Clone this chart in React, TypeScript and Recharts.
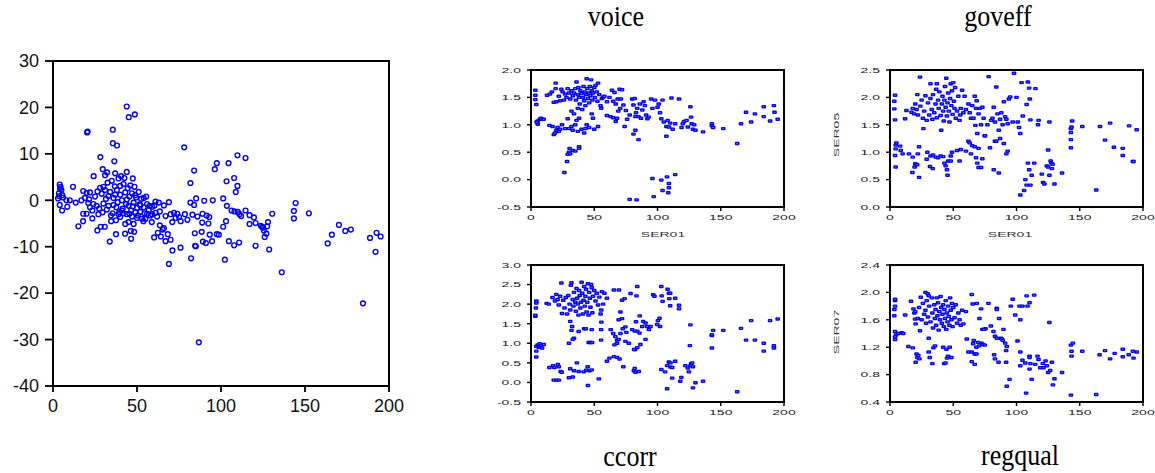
import React from 'react';
import { ScatterChart, Scatter, XAxis, YAxis } from 'recharts';

// big panel: open circles, x 0..200, y -40..30
const bigPoints: [number, number][] = [
  [3, 0.4], [3.5, 1.5], [4, 3.4], [4.5, 2.9], [5, 2.2], [5.5, 1.1], [4, -1], [5.4, -2.2], [3.6, 0.9], [4.2, 2.5],
  [6, 0.6], [8, 0], [8.5, -1.4], [10, 0], [11.9, 2.9], [13.5, -0.5], [15.1, -5.6], [16.9, 0], [17.9, -4.5], [18, -2.9],
  [20, -2.9], [18, 2], [20, 1.6], [22, 1.7], [20.3, 14.6], [20.6, 14.8], [19, 0.5], [21, -0.6], [22, -1.5], [23.4, -2.2],
  [23.4, -3.9], [24.2, 5.2], [25, 0.8], [26, -1.2], [26.4, -6.5], [27, -3], [28, 2.7], [28.2, 9.3], [28.4, -5.7], [29, 1.4],
  [29.6, 6.7], [30, 2.9], [30, -0.7], [30.8, -5.7], [31, 5.4], [31.5, 0.3], [32, -2], [32.2, 6], [32.5, 3.8], [33, -1.2],
  [33.8, -8.9], [34, 1.8], [34.6, -4.5], [35, 4.2], [35.6, 15.2], [35.6, 12.3], [35.5, -2.8], [36, 0.5], [36.5, 8.4], [36.8, 3],
  [37, 5.8], [37.5, -7.3], [37.5, -4.3], [37.7, -1.5], [38.1, 11.8], [38, 2.2], [38.5, -0.4], [39, 4.7], [39.5, -2.5], [40, 1.2],
  [40, -3.6], [40.5, 5.2], [41, 0], [41.5, -1.8], [42, 3.5], [42, -2.8], [42.5, 4.8], [42.9, -7.2], [43, -5.1], [43, 1.7],
  [43.5, -0.8], [43.9, 20.2], [43.9, 6.1], [44, -3], [44.5, 2.6], [45, -4.7], [45, -1.2], [45.1, 17.9], [45.5, 0.8], [46, 3.2],
  [46.3, -6.6], [46.5, -8.3], [46.5, -2.2], [47, 1.5], [47, -3.5], [47.5, 4.7], [48, -5.1], [48, -0.5], [48.3, -6.8], [48.7, 18.5],
  [48.5, 2.9], [49, -2.6], [49.5, 0.6], [50, -1.6], [50.5, -3.3], [51, 1.8], [51.5, -0.9], [52, -2.5], [52.5, 0.3], [53, -4],
  [53.8, -4.5], [54, -1.5], [54.5, -2.8], [55, -4], [55.5, 0.8], [56, -0.8], [57, -2.1], [58, -3.3], [58.8, -4.7], [59, -1.4],
  [60.2, -8], [60.4, -1.1], [61, -2.7], [62, -3.5], [62.4, -7], [63, -0.5], [63.6, -2.4], [63.6, -5.4], [64.2, -7.8], [65.3, -6.3],
  [66, -1.1], [66, -6], [67, -8.8], [67, -3.4], [68.3, -7.3], [69, -0.4], [69, -13.7], [70, -8.5], [70, -3], [71.1, -10.8],
  [71, -4.7], [72, -2.7], [73, -3.8], [74, -2.9], [75, -3.6], [75.9, -10.2], [76, -4.5], [78.1, 11.4], [78.5, -3], [80, -4.2],
  [81.8, 3.7], [81.8, -0.5], [82.2, -12.5], [83, -3.1], [84, 6.4], [84, -1], [84.4, -7.1], [84.6, -9.8], [85, -9.9], [85.2, 0.4],
  [86, -3.5], [86.8, -30.6], [88.5, -6.8], [88.8, -4.8], [89, -2.9], [89.2, -8.9], [90, -0.1], [91, -9.2], [91.5, -3.3], [92.5, -5],
  [93, -3.6], [93.3, -7.4], [94.7, -8.8], [95.1, 0], [96.3, 6.7], [97.5, 8], [97.5, -7.3], [98.7, -7.4], [101.3, 0.4], [101.3, -5.7],
  [102.3, -12.8], [103, -4.5], [103.3, 4.1], [103.5, -1.2], [104.5, 8], [104.7, -8.8], [106.3, -2.2], [107.8, 4.8], [107.8, -9.7], [108, -2.4],
  [108.8, 1.8], [109.8, 9.7], [109.8, 3.1], [110, -2.5], [110.8, -9.1], [111, -3], [112, -3.4], [114.6, 9.1], [114.6, -2.2], [117, -3.2],
  [117, -5.1], [119.6, -3.7], [120.6, -4.9], [120.6, -9.8], [123.7, -5.5], [124.5, -5.7], [125, -5.9], [125.5, -6.5], [126, -7.9], [127, -7.2],
  [127.5, -5.6], [128, -4.7], [128.7, -10.6], [130.5, -2.9], [136.2, -15.5], [143.4, -2.3], [143.4, -3.9], [144.4, -0.6], [152.3, -2.8], [163.5, -9.3],
  [166, -7.4], [170.2, -5.3], [174, -6.6], [177.3, -6.3], [184.5, -22.2], [188.7, -8.1], [192, -11.1], [192.6, -7], [195, -7.8],
  [21.5, 0.2], [24, -0.8], [26.5, 1.9], [27.5, -1.8], [29.5, -2.6], [31, 2.2], [33, 0.9], [34.5, -3.3], [36, -1], [37, 1.2],
  [39, -3], [40, 3.1], [41, -2.2], [44, 0.2], [45.5, -2.9], [47.5, -1.3], [49, 1.1], [50, -3.8], [52, -1.1], [54, 0.5],
  [56, -2.9], [57.5, -1.2], [59, -3], [61, -0.3],
];
const bigXTicks = [0, 50, 100, 150, 200];
const bigYTicks = [-40, -30, -20, -10, 0, 10, 20, 30];

const voicePoints: [number, number][] = [
  [3.4, 1.63], [3.4, 1.54], [3.4, 1.46], [4.2, 1.37], [5.3, 1.07], [5.3, 1.01], [4.5, 1.05], [7, 1.1], [8, 1.12], [10, 1.1],
  [12.7, 1.54], [15, 1.56], [16.5, 1.6], [19.5, 1.66], [19.5, 1.76], [18, 1.41], [20, 1.42], [22, 1.52], [23, 1.44], [24, 1.65],
  [25, 1.6], [26, 1.45], [27, 1.56], [28, 1.5], [29, 1.66], [30, 1.58], [31, 1.47], [32, 1.62], [33, 1.53], [34, 1.58],
  [35, 1.66], [35.5, 1.45], [36, 1.78], [37, 1.55], [37.5, 1.68], [38, 1.5], [38.5, 1.38], [39, 1.62], [40, 1.57], [40.5, 1.28],
  [41, 1.5], [41.5, 1.7], [42, 1.44], [42.5, 1.6], [43, 1.35], [43.5, 1.55], [44, 1.84], [44.5, 1.66], [45, 1.48], [45.5, 1.58],
  [46, 1.4], [46.5, 1.7], [47, 1.53], [47.5, 1.82], [48, 1.62], [48.5, 1.45], [49, 1.58], [50, 1.68], [50.5, 1.5], [51, 1.72],
  [52, 1.6], [52.5, 1.43], [53, 1.76], [54, 1.55], [55, 1.35], [55.5, 1.3], [56, 1.48], [57, 1.5], [58, 1.52], [60, 1.42],
  [60, 1.17], [62, 1.5], [63, 1.15], [64, 1.63], [65, 1.13], [65, 1.43], [66, 1.59], [67, 1.38], [67, 1.06], [68, 1.12],
  [68.5, 1.47], [69, 1.25], [70, 1.65], [70.5, 1.3], [71, 1.47], [72, 1.64], [73, 1.36], [74, 0.97], [75, 1.26], [76, 1.1],
  [78, 1.18], [80, 1.47], [81, 1.36], [82, 1.48], [82.5, 1.15], [83, 1.22], [84, 1.3], [85, 1.15], [86, 1.38], [87, 1.12],
  [88, 1.27], [89, 1.42], [90, 1.35], [91, 1.18], [92, 1.11], [93, 1.14], [95, 1.47], [96, 1.3], [98, 1.45], [100, 1.32],
  [101, 1.38], [102, 1.22], [103, 1.11], [104, 1.45], [105, 1.05], [107, 0.97], [108, 1.08], [109, 0.96], [110, 1.03], [111, 1.49],
  [112, 0.92], [114, 1.02], [117, 1.47], [119, 0.95], [120, 1.02], [121, 1.06], [123, 1.08], [124, 0.96], [126, 1.33], [126.5, 1.14],
  [127, 1.02], [128, 0.92], [129, 1.0], [130, 0.9], [136, 0.87], [143, 1.02], [143, 0.98], [144, 0.95], [152, 0.93], [163, 0.66],
  [166, 1.02], [170, 1.23], [174, 1.05], [177, 1.2], [184, 1.33], [184, 1.15], [189, 1.07], [192, 1.35], [192.5, 1.23], [195, 1.1],
  [14.5, 0.99], [17, 0.97], [18, 0.82], [19, 0.85], [20, 0.9], [21, 0.95], [22, 0.88], [23, 0.92], [24.5, 1.0], [27, 0.93],
  [29, 1.11], [30, 0.93], [32, 0.97], [33, 0.9], [35, 1.0], [36, 1.08], [37, 0.88], [38, 1.12], [40, 0.92], [42, 0.85],
  [43, 0.93], [44, 1.0], [46, 0.95], [48, 1.2], [49, 1.12], [50, 0.92], [53, 0.97], [32, 1.25], [34, 1.2], [37, 1.3],
  [26.4, 0.13], [28.5, 0.33], [29, 0.46], [30, 0.5], [30.5, 0.57], [31, 0.47], [33, 0.53], [35, 0.52], [38, 0.6], [38, 0.57],
  [78, -0.36], [83.5, -0.37], [97, -0.31], [96, 0.02], [103, -0.01], [107.5, 0.05], [109, -0.07], [109, -0.15], [108.5, -0.24], [104, -0.2],
  [114, 0.09], [81, 0.83], [82.5, 0.9], [85, 0.73], [107, 0.79],
];

const goveffPoints: [number, number][] = [
  [3.4, 1.79], [3.4, 1.93], [4, 2.04], [4, 1.59], [4.5, 1.13], [5, 1.17], [4.5, 1.06], [4, 0.94], [4.5, 0.73], [8, 1.11],
  [8.5, 1.03], [10, 0.97], [11.9, 1.61], [13, 1.76], [15, 0.97], [18, 0.91], [17.7, 0.63], [19.5, 0.73], [20, 0.79], [21.5, 0.77],
  [22, 0.97], [23, 0.54], [23, 1.1], [23.7, 2.37], [21.6, 2.05], [26.4, 1.43], [29.5, 1.0], [29, 0.87], [31.6, 0.74], [33.8, 0.7],
  [32, 0.93], [34, 0.95], [36, 0.91], [37, 2.25], [32, 2.25],
  [17, 1.73], [18, 1.8], [19, 1.7], [20, 1.88], [21, 1.78], [22, 1.68], [24, 1.84], [25, 1.95], [26, 1.62], [27, 1.75],
  [28, 2.03], [29, 1.58], [30, 1.9], [31, 1.68], [32, 1.98], [33, 1.78], [33.5, 1.6], [34, 2.05], [35, 1.72], [36, 1.88],
  [36.5, 2.15], [37, 1.63], [38, 1.95], [38.5, 1.8], [39, 2.1], [40, 1.67], [40.5, 1.4], [41, 1.88], [41.5, 2.02], [42, 1.75],
  [42.5, 1.57], [43, 1.95], [43.5, 2.2], [44, 1.82], [44.5, 2.35], [45, 1.66], [45.5, 1.9], [46, 2.08], [46.5, 1.75], [47, 1.55],
  [47.5, 1.98], [48, 2.25], [48.5, 1.85], [49, 2.12], [49.5, 1.69], [50, 2.27], [50.5, 1.93], [51, 1.8], [51.5, 2.18], [52, 1.62],
  [53, 1.75], [54, 2.02], [55, 1.58], [55.5, 1.68], [56, 1.8], [57, 2.13], [58, 1.72], [59, 2.02], [60, 1.78], [62, 1.88],
  [63, 1.72], [64, 1.62], [65, 1.85], [66, 1.62], [67, 2.02], [67.5, 1.49], [68, 1.8], [68.5, 1.94], [69, 1.34], [70, 1.7],
  [71, 1.8], [72, 1.5], [73, 1.82], [74, 1.62], [75, 1.3], [77, 1.5], [78, 2.38], [80, 1.58], [81, 1.62], [82, 1.82],
  [83, 1.55], [84, 2.19], [85, 1.7], [86, 1.4], [87, 1.6], [88, 1.72], [89, 1.5], [90, 1.92], [91, 1.65], [92, 1.6],
  [93, 1.52], [94, 1.97], [95, 2.01], [97, 1.55], [98, 2.44], [100, 2.0], [101, 1.55], [102, 1.45], [103, 1.34], [104, 2.27],
  [105, 1.66], [108, 1.87], [109, 2.28], [110, 2.17], [110.5, 1.97], [111, 1.59], [115, 2.16], [117, 1.5], [117.5, 1.58], [126, 1.55],
  [53, 1.03], [55, 0.84], [56, 1.05], [60, 1.02], [62, 1.2], [63, 1.17], [64, 0.97], [65, 1.12], [67, 1.1], [68, 0.9],
  [69, 0.8], [70, 1.07], [70, 0.72], [72, 0.72], [73, 0.88], [75, 1.3], [79, 1.08], [82, 0.68], [83, 1.2], [84, 1.2],
  [86, 0.62], [87, 1.25], [90, 1.16], [92, 0.97], [93, 1.02], [44, 0.75], [45, 0.68], [45.5, 0.58], [46, 0.84], [48, 0.84],
  [49, 1.0], [43, 0.8], [42, 0.92], [48, 0.93], [38, 0.9], [40, 0.93],
  [103, 0.22], [106, 0.3], [107, 0.5], [108, 0.4], [109, 0.8], [110, 0.68], [111, 0.4], [112, 0.58], [114, 0.8], [120, 0.6],
  [121, 0.45], [122, 0.42], [124, 0.75], [125, 0.73], [126, 0.58], [125, 1.04], [127, 0.84], [127.5, 0.8], [128, 0.7], [128.5, 0.78],
  [130, 0.42], [136, 0.62], [143, 1.08], [143, 1.23], [143, 1.36], [143, 1.43], [143.5, 1.46], [144, 1.57], [152, 1.47], [163, 0.31],
  [166, 1.47], [170, 1.22], [174, 1.53], [177, 1.09], [184, 1.07], [184, 0.94], [189, 1.48], [192, 0.83], [192.5, 0.83], [195, 1.41],
];

const ccorrPoints: [number, number][] = [
  [3.4, 1.69], [3.4, 1.72], [3.9, 1.9], [4.2, 2.03], [4.2, 2.08], [4.2, 0.8], [4.2, 0.65], [4.2, 0.92], [5.3, 0.96], [6, 0.9],
  [7.4, 0.9], [8.7, 0.88], [10, 0.97], [6.8, 0.99], [12.4, 2.02], [14, 2.0],
  [14.5, 0.38], [17.4, 0.43], [18.5, 0.38], [18, 0.06], [20.3, 0.06], [22, 0.06], [21.2, 0.46], [22, 0.4], [23.5, 0.28], [24.3, 0.26],
  [17, 2.17], [19, 2.08], [20, 2.25], [21, 2.12], [22, 1.98], [23, 2.2], [24, 2.54], [24.5, 1.76], [25.5, 2.1], [26.5, 1.9],
  [27.5, 2.17], [28.5, 1.75], [29.5, 2.22], [30.5, 2.0], [31, 1.85], [31.5, 2.48], [32, 2.55], [33, 2.12], [33.5, 1.95], [34, 2.3],
  [35, 2.05], [35.5, 1.82], [36, 2.4], [36.5, 2.15], [37, 2.0], [37.5, 1.72], [38, 2.35], [38.5, 2.22], [39, 1.9], [39.5, 2.05],
  [40, 2.56], [40.5, 2.28], [41, 1.75], [41.5, 2.1], [42, 2.45], [42.5, 1.95], [43, 2.2], [43.5, 2.38], [44, 1.8], [44.5, 2.05],
  [45, 2.52], [45.5, 1.72], [46, 2.3], [46.5, 2.15], [47, 1.92], [47.5, 2.5], [48, 2.42], [48.5, 1.78], [49, 2.2], [50, 2.35],
  [51, 2.08], [52, 2.28], [53, 1.98], [54, 2.18], [55, 1.75], [55.5, 1.85], [56, 2.32], [57, 2.0], [58, 2.28], [60, 2.15],
  [31, 1.56], [32.5, 1.43], [34, 1.13], [33, 1.1], [30, 1.0], [32, 1.33], [37.7, 1.3], [42, 1.37], [43.3, 1.37],
  [30, 0.12], [31, 0.35], [33, 0.14], [34, 0.3], [36.3, 0.5], [37.7, 0.28], [41.6, 0.27], [43.7, 0.31], [44.8, 0.4], [46.3, 0.3],
  [48, 0.32], [45, -0.08], [45.6, 1.02], [47, 1.02], [48.3, 1.02], [48, 1.35], [53.6, 0.09], [55.4, 1.35], [55.6, 1.54], [55.4, 1.08],
  [60, 0.54], [62, 0.62], [65.5, 0.66], [68, 0.64], [70, 0.6], [73, 0.4],
  [63, 1.35], [65, 1.25], [66.7, 1.17], [68, 1.08], [69.3, 1.1], [68, 1.0], [66, 0.96], [70.7, 1.25], [72.5, 1.37], [74.6, 1.42],
  [75.4, 1.28], [69.3, 1.6], [70.7, 1.8], [72, 1.63], [74.6, 1.05], [77.3, 1.0], [80, 1.35], [82, 1.31], [84, 1.31], [85.8, 1.26],
  [87.9, 1.43], [88.7, 1.56], [90.5, 1.52], [91.8, 1.43], [93.2, 1.35], [94.5, 1.43], [90.5, 1.1], [86.5, 0.97], [84, 0.89], [82.3, 0.84],
  [81.3, 0.3], [82, 0.36], [82.6, 0.26], [85.2, 0.28], [81.5, 0.84], [83, 1.55], [86, 1.7],
  [65.5, 2.36], [69.5, 2.36], [72, 2.1], [74, 2.14], [78.7, 2.27], [83.4, 2.21], [84, 2.45],
  [96.6, 2.24], [97.6, 2.2], [103, 2.45], [103.3, 2.21], [104, 2.07], [108, 2.38], [109, 2.28], [110, 2.28], [109.3, 2.14], [110, 1.96],
  [114, 2.15], [117, 1.97], [117, 1.88], [100.3, 1.58], [101.6, 1.64], [99.8, 1.48], [102, 1.43],
  [103, 0.33], [106, 0.27], [107.6, 0.43], [109, 0.52], [110.3, 0.5], [110.3, 0.39], [111.6, 0.38], [111.6, 0.11], [114, 0.54], [107.6, -0.16],
  [118, 0.03], [118.8, 0.13], [122, 0.43], [124, 0.37], [126, 0.43], [126.6, 0.48], [127.4, 0.5], [128, 0.4], [124.8, 0.27], [125.6, 0.94],
  [126, 1.47], [128, -0.14], [130, -0.01], [136, 0.03], [143, 1.2], [143, 1.22], [143, 0.88], [144, 1.33], [152, 1.33], [163, -0.24],
  [166, 1.38], [170, 1.08], [174, 1.58], [177, 1.08], [184, 1.0], [184, 0.8], [189, 1.58], [192, 0.94], [192, 0.88], [195, 1.62],
];

const regqualPoints: [number, number][] = [
  [3.4, 1.66], [3.4, 1.75], [4, 1.8], [4, 1.88], [4, 1.9], [4, 1.43], [4.8, 1.38], [4, 1.31], [4, 1.35], [6.6, 1.4],
  [9.2, 1.41], [10.5, 1.4], [12, 1.67], [14.5, 1.21], [16.6, 1.87], [18, 1.19], [18.5, 1.76], [19.3, 1.7], [19.8, 1.61], [20.3, 1.54],
  [20.3, 0.98], [21, 1.1], [21.6, 1.05], [22.4, 1.08], [23.2, 1.03], [23.7, 1.44], [24.3, 1.93], [28, 2.0], [29.8, 1.98], [30.6, 1.95],
  [30.6, 1.33], [30.6, 1.13], [31.4, 1.05], [33.5, 0.96], [34.3, 1.19], [35.6, 1.22],
  [20, 1.72], [22, 1.62], [23, 1.78], [25, 1.6], [26, 1.84], [27, 1.68], [28, 1.74], [28.5, 1.55], [29, 1.88], [30, 1.64],
  [31, 1.8], [32, 1.57], [33, 1.92], [33.5, 1.7], [34, 1.48], [35, 1.82], [35.5, 1.62], [36, 1.75], [36.5, 1.52], [37, 1.92],
  [37.5, 1.66], [38, 1.85], [38.5, 1.45], [39, 1.72], [39.5, 1.6], [40, 1.94], [40.5, 1.78], [41, 1.55], [41.5, 1.68], [42, 1.82],
  [42.5, 1.5], [43, 1.75], [43.5, 1.62], [44, 1.88], [44.5, 1.46], [45, 1.7], [45.5, 1.57], [46, 1.8], [46.5, 1.65], [47, 1.52],
  [47.5, 1.92], [48, 1.74], [48.5, 1.6], [49, 1.84], [49.5, 1.5], [50, 1.78], [51, 1.63], [52, 1.82], [53, 1.55], [54, 1.7],
  [55, 1.6], [56, 1.52], [57, 1.74], [58, 1.54], [60, 1.72],
  [42, 1.2], [42.8, 0.96], [43.8, 0.97], [45.1, 1.04], [45.9, 1.07], [44.6, 1.17], [47.2, 1.2], [48.5, 1.05],
  [60.7, 1.32], [62, 1.13], [64.6, 1.13], [64.6, 0.99], [67, 0.95], [67, 1.1], [68.3, 1.1], [68.3, 1.2], [65.7, 1.25], [66.2, 1.3],
  [69.7, 1.27], [70.5, 1.22], [72.3, 1.26], [73.6, 1.24], [74.9, 1.23], [73, 1.46], [75.5, 1.47],
  [64.6, 1.97], [65.4, 1.83], [68.6, 1.84], [70.7, 1.62], [72, 1.76], [74, 1.46], [77.8, 1.84], [79.7, 1.51], [81.8, 1.43], [83, 1.36],
  [84.4, 1.33], [82.3, 1.09], [83, 1.03], [84.4, 1.77], [84.4, 1.75], [85.8, 0.98], [86.3, 1.62], [87.6, 1.33], [88.4, 1.32], [89.2, 1.3],
  [89.7, 1.46], [91, 1.26], [92.3, 1.21], [91.8, 1.15], [91.8, 0.98], [92.3, 0.63], [94.5, 0.73], [95.5, 1.8], [97, 1.9], [99, 1.67],
  [100.8, 1.29], [102.3, 1.8], [103, 1.6], [103, 1.13], [104.7, 1.8], [103, 0.93], [104.7, 1.01], [106.9, 0.97], [107.6, 0.53], [108, 1.95],
  [108.7, 1.8], [110.3, 1.85], [110.3, 1.07], [110.3, 1.05], [110.3, 0.88], [111, 0.96], [112, 0.73], [114, 1.96], [114.8, 0.95], [116.6, 1.07],
  [117.4, 1.02], [118.7, 0.9], [120.8, 0.96], [121.3, 0.9], [123, 1.0], [124, 0.93], [125, 0.83], [126, 1.56], [126.6, 0.86], [128, 0.98],
  [128.8, 0.65], [130, 0.74], [136, 0.83], [143, 1.23], [143.5, 1.07], [143.5, 1.14], [144.6, 1.26], [143, 0.5], [152, 1.14], [163, 0.51],
  [165.7, 1.09], [170, 1.15], [174, 1.03], [177.6, 1.11], [184, 1.17], [184, 1.06], [188.7, 1.09], [192, 1.14], [192.5, 1.04], [195, 1.13],
];

const smallXTicks = [0, 50, 100, 150, 200];
const voiceYTicks = [-0.5, 0, 0.5, 1.0, 1.5, 2.0];
const goveffYTicks = [0, 0.5, 1.0, 1.5, 2.0, 2.5];
const ccorrYTicks = [-0.5, 0, 0.5, 1.0, 1.5, 2.0, 2.5, 3.0];
const regqualYTicks = [0.4, 0.8, 1.2, 1.6, 2.0, 2.4];

const toRows = (pts: [number, number][]) => pts.map(([x, y]) => ({ x, y }));

const BLUE = '#0000ff';
const SANS = '"Liberation Sans", Arial, sans-serif';
const SERIF = '"Liberation Serif", "Times New Roman", serif';

const OpenCircle = (props: any) => {
  const { cx, cy } = props;
  if (cx == null || cy == null) return null;
  return <circle cx={cx} cy={cy} r={2.4} fill="none" stroke={BLUE} strokeWidth={1.4} />;
};

const SmallMark = (props: any) => {
  const { cx, cy } = props;
  if (cx == null || cy == null) return null;
  return (
    <g>
      <rect x={cx - 2.3} y={cy - 1.7} width={4.6} height={3.4} rx={1} fill={BLUE} />
      <rect x={cx - 0.8} y={cy - 0.4} width={1.6} height={0.8} fill="#8c8cff" />
    </g>
  );
};

// tick marks are drawn together with the labels
const BIG_TS_X = 6, BIG_TM_X = 7, BIG_TS_Y = 8, BIG_TM_Y = 6;
const SM_TS = 4, SM_TM_X = 3, SM_TM_Y = 6;

const BigXTick = (props: any) => {
  const { x, y, payload } = props;
  const y0 = y - BIG_TM_X - BIG_TS_X;
  return (
    <g>
      <rect x={x - 0.9} y={y0} width={1.8} height={BIG_TS_X} fill="#000" />
      <text x={x} y={y} dy="0.71em" textAnchor="middle" fontSize={18} fontFamily={SANS} fill="#111">{payload.value}</text>
    </g>
  );
};

const BigYTick = (props: any) => {
  const { x, y, payload } = props;
  const x0 = x + BIG_TM_Y;
  return (
    <g>
      <rect x={x0} y={y - 0.9} width={BIG_TS_Y} height={1.8} fill="#000" />
      <text x={x} y={y} dy="0.35em" textAnchor="end" fontSize={18} fontFamily={SANS} fill="#111">{payload.value}</text>
    </g>
  );
};

const SmallYTick = (props: any) => {
  const { x, y, payload } = props;
  return (
    <g>
      <rect x={x + SM_TM_Y} y={y - 0.7} width={SM_TS} height={1.4} fill="#000" />
      <text transform={`translate(${x},${y}) scale(1.75,1)`} textAnchor="end" dy="0.35em" fontSize={8} fontFamily={SANS} fill="#222">
        {Number(payload.value).toFixed(1)}
      </text>
    </g>
  );
};

const SmallXTick = (props: any) => {
  const { x, y, payload } = props;
  return (
    <g>
      <rect x={x - 0.7} y={y - SM_TM_X - SM_TS} width={1.4} height={SM_TS} fill="#000" />
      <text transform={`translate(${x},${y}) scale(1.75,1)`} textAnchor="middle" dy="0.71em" fontSize={8} fontFamily={SANS} fill="#222">
        {payload.value}
      </text>
    </g>
  );
};

const Stretched = ({ left, top, text, rotate }: any) => (
  <div style={{ position: 'absolute', left, top, width: 0, height: 0, overflow: 'visible' }}>
    <span
      style={{
        position: 'absolute',
        left: 0,
        top: 0,
        whiteSpace: 'nowrap',
        fontFamily: SANS,
        fontSize: 8,
        lineHeight: 1,
        color: '#333',
        transform: `translate(-50%,-50%) ${rotate ? 'rotate(-90deg) ' : ''}scaleX(1.75)`,
      }}
    >
      {text}
    </span>
  </div>
);

const Title = ({ cx, cy, text }: any) => (
  <div style={{ position: 'absolute', left: cx, top: cy, width: 0, height: 0 }}>
    <span
      style={{
        position: 'absolute',
        whiteSpace: 'nowrap',
        fontFamily: SERIF,
        fontSize: 26,
        lineHeight: 1,
        color: '#000',
        transform: 'translate(-50%,-50%) scaleY(1.1)',
      }}
    >
      {text}
    </span>
  </div>
);

// plot frame box around the plot area rectangle set by the chart margins
const Frame = ({ left, top, width, height }: any) => (
  <div
    style={{
      position: 'absolute',
      left: left - 1,
      top: top - 1,
      width: width + 2,
      height: height + 2,
      boxSizing: 'border-box',
      border: '2px solid #000',
      pointerEvents: 'none',
    }}
  />
);

const PLOT_W = 253;
const PLOT_H = 137;
const Y_W = 50;
const R_PAD = 24;

const SmallPanel = ({ left, top, points, yDomain, yTicks }: any) => (
  <>
    <div style={{ position: 'absolute', left: left - Y_W, top: top - 8 }}>
      <ScatterChart width={Y_W + PLOT_W + R_PAD} height={8 + PLOT_H + 30} margin={{ top: 8, right: R_PAD, bottom: 5, left: 0 }}>
        <XAxis
          type="number"
          dataKey="x"
          domain={[0, 200]}
          ticks={smallXTicks}
          interval={0}
          height={25}
          tickSize={SM_TS}
          tickMargin={SM_TM_X}
          axisLine={false}
          tickLine={false}
          tick={<SmallXTick />}
          allowDataOverflow
        />
        <YAxis
          type="number"
          dataKey="y"
          domain={yDomain}
          ticks={yTicks}
          interval={0}
          width={Y_W}
          tickSize={SM_TS}
          tickMargin={SM_TM_Y}
          axisLine={false}
          tickLine={false}
          tick={<SmallYTick />}
          allowDataOverflow
        />
        <Scatter data={toRows(points)} shape={<SmallMark />} isAnimationActive={false} />
      </ScatterChart>
    </div>
    <Frame left={left} top={top} width={PLOT_W} height={PLOT_H} />
  </>
);

export default function App() {
  return (
    <div style={{ position: 'absolute', left: 0, top: 0, width: 1155, height: 473, background: '#fff', overflow: 'hidden' }}>
      <div style={{ position: 'absolute', left: 0, top: 0 }}>
        <ScatterChart width={420} height={440} margin={{ top: 61, right: 31, bottom: 24, left: 0 }}>
          <XAxis
            type="number"
            dataKey="x"
            domain={[0, 200]}
            ticks={bigXTicks}
            interval={0}
            height={30}
            tickSize={BIG_TS_X}
            tickMargin={BIG_TM_X}
            axisLine={false}
            tickLine={false}
            tick={<BigXTick />}
          />
          <YAxis
            type="number"
            dataKey="y"
            domain={[-40, 30]}
            ticks={bigYTicks}
            interval={0}
            width={53}
            tickSize={BIG_TS_Y}
            tickMargin={BIG_TM_Y}
            axisLine={false}
            tickLine={false}
            tick={<BigYTick />}
          />
          <Scatter data={toRows(bigPoints)} shape={<OpenCircle />} isAnimationActive={false} />
        </ScatterChart>
      </div>
      <Frame left={53} top={61} width={336} height={325} />

      <SmallPanel left={531} top={70} points={voicePoints} yDomain={[-0.5, 2.0]} yTicks={voiceYTicks} />
      <SmallPanel left={890} top={70} points={goveffPoints} yDomain={[0, 2.5]} yTicks={goveffYTicks} />
      <SmallPanel left={531} top={265} points={ccorrPoints} yDomain={[-0.5, 3.0]} yTicks={ccorrYTicks} />
      <SmallPanel left={890} top={265} points={regqualPoints} yDomain={[0.4, 2.4]} yTicks={regqualYTicks} />

      <Stretched left={663} top={235} text="SER01" />
      <Stretched left={1010} top={235} text="SER01" />
      <Stretched left={837} top={135} text="SER05" rotate />
      <Stretched left={837} top={332} text="SER07" rotate />

      <Title cx={616} cy={17} text="voice" />
      <Title cx={998} cy={17} text="goveff" />
      <Title cx={630} cy={457} text="ccorr" />
      <Title cx={1020} cy={456} text="regqual" />
    </div>
  );
}
